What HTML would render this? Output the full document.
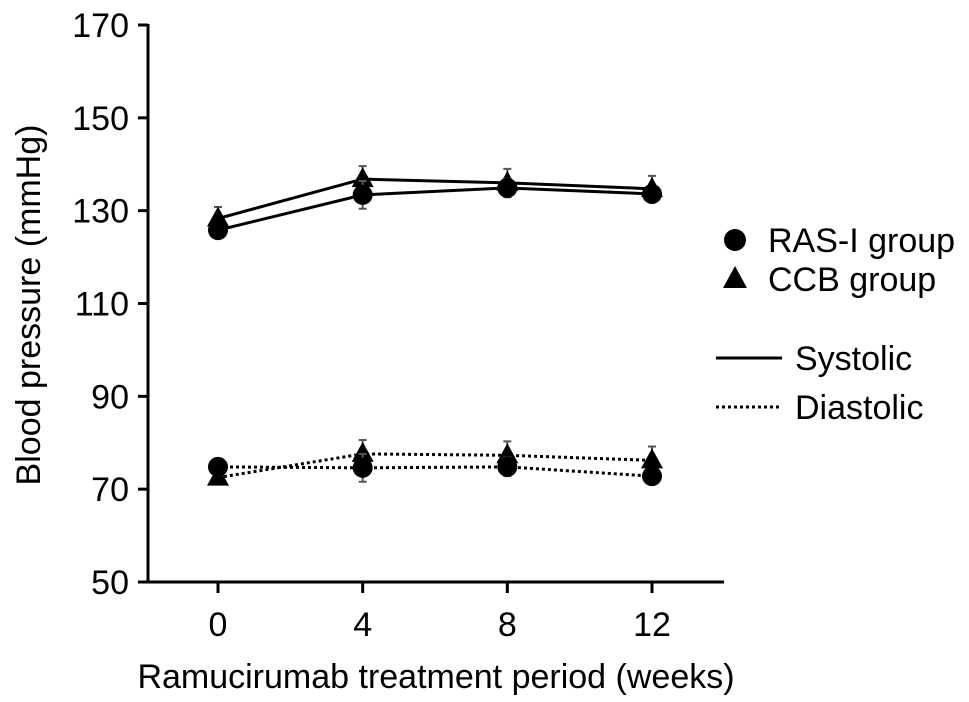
<!DOCTYPE html>
<html><head><meta charset="utf-8"><style>
body{margin:0;background:#fff}
svg{display:block;font-family:"Liberation Sans",Arial,sans-serif}
</style></head><body>
<svg id="chart" width="969" height="702" viewBox="0 0 969 702" xmlns="http://www.w3.org/2000/svg">
<g id="axes"></g>
<g id="series"></g>
<g id="legend">
  <circle cx="735" cy="240" r="11" fill="#000"/>
  <text x="768" y="252" font-size="34">RAS-I group</text>
  <polygon points="735,266 747,288 723,288" fill="#000"/>
  <text x="768" y="291" font-size="34">CCB group</text>
  <line x1="716" y1="358" x2="782" y2="358" stroke="#000" stroke-width="3"/>
  <text x="795" y="370" font-size="34">Systolic</text>
  <line x1="716" y1="407" x2="782" y2="407" stroke="#000" stroke-width="3" stroke-dasharray="3,3"/>
  <text x="795" y="419" font-size="34">Diastolic</text>
</g>
</svg>
<script>
const weeks = [0, 4, 8, 12];
const yTicks = [50, 70, 90, 110, 130, 150, 170];
const sysRAS = [125.8, 133.4, 134.9, 133.6];
const sysCCB = [128.3, 136.8, 136.0, 134.7];
const diaRAS = [74.8, 74.6, 74.8, 72.8];
const diaCCB = [72.5, 77.6, 77.3, 76.2];
const errRAS = [1.5, 3.0, 2.0, 1.5];
const errCCB = [2.5, 2.8, 3.0, 2.8];
const errDiaRAS = [1.5, 3.0, 2.0, 1.5];
const errDiaCCB = [1.5, 3.0, 3.0, 3.0];

const NS = "http://www.w3.org/2000/svg";
const x = w => 218 + (w - 0) * (652 - 218) / 12;
const y = v => 582 - (v - 50) * (582 - 25) / 120;
function mk(tag, attrs, parent){const e=document.createElementNS(NS,tag);for(const k in attrs)e.setAttribute(k,attrs[k]);parent.appendChild(e);return e;}
const axes=document.getElementById('axes'), ser=document.getElementById('series');

let e=mk('line',{x1:148,y1:24,x2:148,y2:583,stroke:'#000','stroke-width':3},axes);


e=mk('line',{x1:147,y1:582,x2:724,y2:582,stroke:'#000','stroke-width':3},axes);


yTicks.forEach(t=>{
  let l=mk('line',{x1:138,y1:y(t),x2:148,y2:y(t),stroke:'#000','stroke-width':3},axes);
  
  
  let tx=mk('text',{x:129,y:y(t)+12,'font-size':34,'text-anchor':'end'},axes);
  tx.textContent=t;
  
  
});
weeks.forEach(w=>{
  let l=mk('line',{x1:x(w),y1:582,x2:x(w),y2:593,stroke:'#000','stroke-width':3},axes);
  
  
  let tx=mk('text',{x:x(w),y:636,'font-size':34,'text-anchor':'middle'},axes);
  tx.textContent=w;
  
  
});
let xt=mk('text',{x:436,y:688,'font-size':34,'text-anchor':'middle'},axes);
xt.textContent='Ramucirumab treatment period (weeks)';


let yt=mk('text',{x:0,y:0,'font-size':34,'text-anchor':'middle',transform:'translate(40,305) rotate(-90)'},axes);
yt.textContent='Blood pressure (mmHg)';



function series(vals, errs, dashed, marker, name){
  const pts=weeks.map((w,i)=>x(w)+','+y(vals[i])).join(' ');
  let pl=mk('polyline',{points:pts,fill:'none',stroke:'#000','stroke-width':3,'stroke-dasharray':dashed?'3,3':'none'},ser);
  
  
  weeks.forEach((w,i)=>{
    const cx=x(w), cy=y(vals[i]), top=y(vals[i]+errs[i]), bot=y(vals[i]-errs[i]);
    let eb=mk('path',{d:`M${cx},${top}V${bot}M${cx-4},${top}H${cx+4}M${cx-4},${bot}H${cx+4}`,stroke:'#555','stroke-width':2,fill:'none'},ser);
    
    
    let m;
    if(marker==='circle') m=mk('circle',{cx:cx,cy:cy,r:10,fill:'#000'},ser);
    else m=mk('polygon',{points:`${cx},${cy-12} ${cx+11},${cy+8} ${cx-11},${cy+8}`,fill:'#000'},ser);
    
    
  });
}
series(sysCCB, errCCB, false, 'triangle', 'systolic-ccb');
series(sysRAS, errRAS, false, 'circle', 'systolic-ras');
series(diaCCB, errDiaCCB, true, 'triangle', 'diastolic-ccb');
series(diaRAS, errDiaRAS, true, 'circle', 'diastolic-ras');
</script>
</body></html>
